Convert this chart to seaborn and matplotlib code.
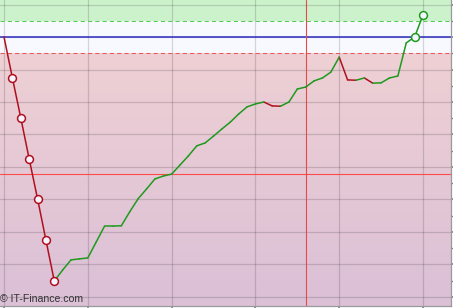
import numpy as np
import pandas as pd
import matplotlib
matplotlib.use("Agg")
import matplotlib.pyplot as plt
import seaborn as sns
from matplotlib.ticker import MultipleLocator

# ---- data ----
index = list(range(51))
values = [0.0, -12.6, -24.9, -37.5, -49.8, -62.5, -75.1, -71.7, -68.6, -68.3,
          -68.0, -63.1, -58.2, -58.2, -58.1, -53.8, -49.8, -46.8, -43.7, -42.8,
          -42.2, -39.4, -36.6, -33.5, -32.6, -30.5, -28.3, -26.2, -23.7, -21.5,
          -20.6, -20.0, -21.2, -21.3, -20.0, -16.0, -15.4, -13.5, -12.6, -10.8,
          -6.2, -13.2, -13.3, -12.6, -14.2, -14.1, -12.6, -12.0, -1.8, 0.0, 6.8]
marked_red = [1, 2, 3, 4, 5, 6]
marked_green = [49, 50]
reference_level = 0.0
upper_threshold = 5.0
lower_threshold = -5.0
red_level = -42.2
red_vertical_x = 36.0

GREEN = "#1f9a1f"
RED = "#b0101e"

sns.set_theme(style="white")
plt.rcParams['font.family'] = ['Liberation Sans', 'DejaVu Sans']

fig = plt.figure(figsize=(4.53, 3.08), dpi=100)
ax = fig.add_axes([0.0, 2 / 308, 451 / 453, 306 / 308])

xmin, xmax = -0.48, 53.34
ymin, ymax = -82.8, 11.4
ax.set_xlim(xmin, xmax)
ax.set_ylim(ymin, ymax)

# background bands
ax.axhspan(upper_threshold, ymax, color="#ccf2cc", zorder=0, lw=0)
ax.axhspan(lower_threshold, upper_threshold, color="#f8f9ff", zorder=0, lw=0)
grad = np.linspace(0, 1, 256).reshape(-1, 1)
top_c = np.array([238, 208, 212]) / 255
bot_c = np.array([219, 192, 215]) / 255
img = top_c[None, None, :] * (1 - grad[:, :, None]) + bot_c[None, None, :] * grad[:, :, None]
ax.imshow(img, extent=[xmin, xmax, ymin, lower_threshold], aspect="auto",
          origin="upper", zorder=0)

# grid
ax.xaxis.set_major_locator(MultipleLocator(10))
ax.yaxis.set_major_locator(MultipleLocator(10))
ax.yaxis.set_minor_locator(MultipleLocator(5))
ax.grid(True, which="major", color="black", alpha=0.15, lw=0.9)
for gl in ax.get_xgridlines() + ax.get_ygridlines():
    gl.set_zorder(1)

# reference lines
ax.axhline(upper_threshold, color="#55cc55", lw=0.75, ls=(0, (4, 3)), zorder=2)
ax.axhline(lower_threshold, color="#e85a5a", lw=0.75, ls=(0, (4, 3)), zorder=2)
ax.axhline(reference_level, color="#2b2bc0", lw=1.1, zorder=2)
ax.axhline(red_level, color="#ff4a4a", lw=0.8, zorder=2)
ax.axvline(red_vertical_x, color="#e84848", lw=0.8, zorder=2)

# coloured segments
rows = []
for i in range(len(values) - 1):
    d = "down" if values[i + 1] < values[i] else "up"
    rows.append((index[i], values[i], i, d))
    rows.append((index[i + 1], values[i + 1], i, d))
seg = pd.DataFrame(rows, columns=["x", "y", "seg", "dir"])
sns.lineplot(data=seg, x="x", y="y", hue="dir", units="seg", estimator=None,
             palette={"up": GREEN, "down": RED}, lw=1.1, legend=False, ax=ax,
             zorder=3)

mr = pd.DataFrame({"x": [index[i] for i in marked_red], "y": [values[i] for i in marked_red]})
mg = pd.DataFrame({"x": [index[i] for i in marked_green], "y": [values[i] for i in marked_green]})
sns.scatterplot(data=mr, x="x", y="y", s=32, color="#f4f6ff", edgecolor=RED,
                linewidth=1.1, ax=ax, zorder=4)
sns.scatterplot(data=mg, x="x", y="y", s=32, color="#f4f6ff", edgecolor=GREEN,
                linewidth=1.1, ax=ax, zorder=4)

# axes styling
ax.set_xlabel("")
ax.set_ylabel("")
for s in ["top", "left"]:
    ax.spines[s].set_visible(False)
for s in ["bottom", "right"]:
    ax.spines[s].set_color("#9a9a9a")
    ax.spines[s].set_linewidth(0.9)
ax.yaxis.tick_right()
ax.tick_params(axis="y", which="both", direction="out", length=3, color="#808080",
               labelright=False, labelleft=False, right=True, left=False)
ax.tick_params(axis="x", which="major", direction="out", length=3, color="#808080",
               labelbottom=False, bottom=True)

fig.text(0.0, 4 / 308, "© IT-Finance.com", fontsize=7.6, color="#333333",
         ha="left", va="bottom")

fig.savefig("out.png", dpi=100)
